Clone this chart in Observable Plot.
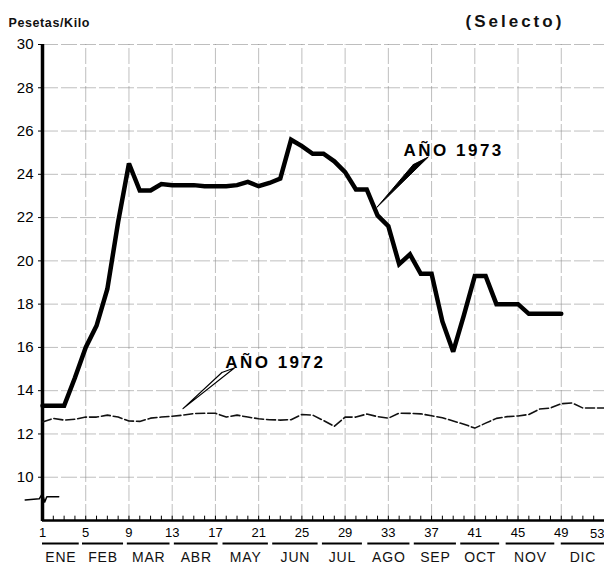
<!DOCTYPE html>
<html>
<head>
<meta charset="utf-8">
<script src="https://cdn.jsdelivr.net/npm/d3@7"></script>
<script src="https://cdn.jsdelivr.net/npm/@observablehq/plot@0.6"></script>
<style>
  html, body { margin: 0; padding: 0; background: #fff; }
  #chart { position: relative; width: 604px; height: 565px; }
  svg { font-family: "Liberation Sans", Arial, sans-serif; }
</style>
</head>
<body>
<div id="chart"></div>
<script>
// ---- data ----
const weeks1973 = d3.range(1, 50);
const price1973 = [13.3, 13.3, 13.3, 14.6, 16.0, 17.0, 18.7, 21.8, 24.5, 23.25,
  23.25, 23.55, 23.5, 23.5, 23.5, 23.45, 23.45, 23.45, 23.5, 23.65,
  23.45, 23.6, 23.8, 25.6, 25.3, 24.95, 24.95, 24.6, 24.1, 23.3,
  23.3, 22.1, 21.6, 19.85, 20.3, 19.4, 19.4, 17.2, 15.8, 17.5,
  19.3, 19.3, 18.0, 18.0, 18.0, 17.55, 17.55, 17.55, 17.55];

const weeks1972 = d3.range(1, 54);
const price1972 = [12.55, 12.72, 12.64, 12.68, 12.78, 12.78, 12.87, 12.78, 12.6, 12.58,
  12.73, 12.78, 12.82, 12.87, 12.94, 12.96, 12.96, 12.78, 12.87, 12.78,
  12.7, 12.66, 12.64, 12.66, 12.9, 12.87, 12.62, 12.35, 12.78, 12.78,
  12.92, 12.8, 12.73, 12.96, 12.95, 12.93, 12.84, 12.75, 12.6, 12.45,
  12.27, 12.5, 12.72, 12.8, 12.83, 12.9, 13.15, 13.2, 13.4, 13.43,
  13.2, 13.2, 13.2];

const weekTicks = [1, 5, 9, 13, 17, 21, 25, 29, 33, 37, 41, 45, 49];
const lastWeekTick = [53];
const priceTicks = [10, 12, 14, 16, 18, 20, 22, 24, 26, 28, 30];
const gridPrices = [10, 12, 14, 16, 18, 20, 22, 24, 26, 28, 30];

const monthNames = ["ENE", "FEB", "MAR", "ABR", "MAY", "JUN", "JUL", "AGO", "SEP", "OCT", "NOV", "DIC"];
const monthStart = [1, 4.7, 8.85, 13.2, 17.7, 22.3, 26.9, 31.1, 35.4, 39.7, 43.9, 49];
const monthEnd   = [4.4, 8.5, 12.8, 17.25, 21.9, 26.5, 30.6, 35, 39.3, 43.3, 48.4, 53];

const label1973 = {text: "AÑO 1973", week: 34.4, price: 25.1};
const label1972 = {text: "AÑO 1972", week: 17.9, price: 15.3};
const pointer1973 = [[35.3, 24.45], [36.7, 24.8], [31.93, 22.47]];
const pointer1972 = [[17.6, 14.84], [18.75, 15.05], [14.0, 13.17]];
const breakMark = [[-0.6, 8.95], [0.7, 9.0], [1.0, 9.25], [1.2, 8.85], [1.4, 9.1], [2.5, 9.1]];

// ---- build ----
const s1973 = weeks1973.map((w, i) => ({week: w, price: price1973[i]}));
const s1972 = weeks1972.map((w, i) => ({week: w, price: price1972[i]}));
const months = monthNames.map((m, i) => ({name: m, start: monthStart[i], end: monthEnd[i], mid: (monthStart[i] + monthEnd[i]) / 2}));
const bottom = () => 8;
const gridStyle = {stroke: "#888", strokeOpacity: 0.55, strokeWidth: 1, strokeDasharray: "16,3"};

const plot = Plot.plot({
  width: 604,
  height: 565,
  marginTop: 44,
  marginLeft: 42,
  marginRight: 0,
  marginBottom: 45,
  style: {fontFamily: "Liberation Sans, Arial, sans-serif", background: "#fff", overflow: "visible"},
  x: {domain: [1, 53], axis: null},
  y: {domain: [8, 30], axis: null},
  marks: [
    // grid
    Plot.ruleY(gridPrices, {x1: () => 1, x2: () => 53, ...gridStyle}),
    Plot.ruleX([...weekTicks, ...lastWeekTick], {y1: () => 8, y2: () => 30, ...gridStyle}),
    // minor week ticks on axis
    Plot.ruleX(d3.range(1, 54), {y1: () => 8, y2: () => 8.2, stroke: "#000", strokeWidth: 1}),
    // axes
    Plot.axisY({ticks: priceTicks, tickSize: 4, tickPadding: 5, fontSize: 15, label: null, tickFormat: d => d}),
    Plot.axisX({ticks: weekTicks, tickSize: 0, tickPadding: 7, fontSize: 13, label: null, tickFormat: d => d}),
    Plot.text(lastWeekTick, {x: d => d, y: bottom, dy: 13, text: d => String(d), textAnchor: "end", fontSize: 13}),
    Plot.ruleY([8], {x1: () => 1, x2: () => 53, stroke: "#000", strokeWidth: 2.5}),
    Plot.ruleX([1], {y1: () => 7.95, y2: () => 30, stroke: "#000", strokeWidth: 3.5}),
    Plot.line(breakMark, {x: d => d[0], y: d => d[1], stroke: "#000", strokeWidth: 1.5}),
    // month bars and labels
    Plot.ruleY(months, {y: bottom, x1: "start", x2: "end", dy: 23, stroke: "#000", strokeWidth: 2}),
    Plot.text(months, {x: "mid", y: bottom, dy: 37, text: "name", fontSize: 14, fill: "#111"}),
    // series
    Plot.line(s1972, {x: "week", y: "price", stroke: "#111", strokeWidth: 1.6, strokeDasharray: "9,3"}),
    Plot.line(s1973, {x: "week", y: "price", stroke: "#000", strokeWidth: 4.5, strokeLinejoin: "miter", strokeMiterlimit: 3}),
    // pointers
    Plot.line([...pointer1973, pointer1973[0]], {x: d => d[0], y: d => d[1], stroke: "#000", strokeWidth: 1, fill: "#000"}),
    Plot.line([...pointer1972, pointer1972[0]], {x: d => d[0], y: d => d[1], stroke: "#000", strokeWidth: 1.2, fill: "#fff"}),
    // labels
    Plot.text([label1973], {x: "week", y: "price", text: "text", textAnchor: "start", fontSize: 17, fontWeight: "bold", fill: "#000"}),
    Plot.text([label1972], {x: "week", y: "price", text: "text", textAnchor: "start", fontSize: 17, fontWeight: "bold", fill: "#000"}),
    // titles
    Plot.text(["Pesetas/Kilo"], {frameAnchor: "top-left", dx: -34, dy: -26, textAnchor: "start", fontSize: 12.5, fontWeight: "bold", fill: "#111"}),
    Plot.text(["(Selecto)"], {frameAnchor: "top-left", dx: 423, dy: -30, textAnchor: "start", fontSize: 17, fontWeight: "bold", fill: "#111"})
  ]
});
document.getElementById("chart").appendChild(plot);

// letter spacing to match the wide hand lettering
const spacing = {"AÑO 1973": "2.5px", "AÑO 1972": "2.5px", "(Selecto)": "3px", "Pesetas/Kilo": "0.6px"};
d3.select(plot).selectAll("text").each(function() {
  const t = this.textContent;
  if (spacing[t]) this.style.letterSpacing = spacing[t];
  else if (monthNames.includes(t)) this.style.letterSpacing = "0.8px";
});
</script>
</body>
</html>
